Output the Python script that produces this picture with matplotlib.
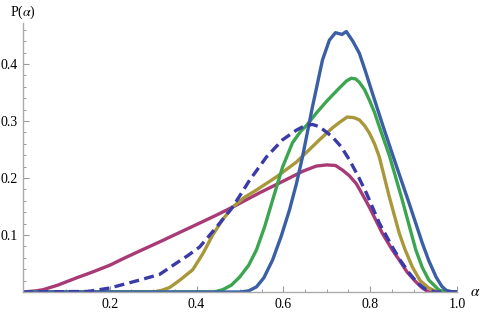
import matplotlib
matplotlib.use('Agg')
import matplotlib.pyplot as plt

plt.rcParams['font.family'] = ['Liberation Serif', 'DejaVu Serif']
plt.rcParams['mathtext.fontset'] = 'stix'

# points (alpha, P)
magenta_a = [0.0, 0.03, 0.046, 0.08, 0.124, 0.16, 0.2, 0.235, 0.269, 0.315, 0.368, 0.41, 0.446, 0.483,
             0.545, 0.614, 0.645, 0.676, 0.7, 0.72, 0.736, 0.752, 0.768, 0.783, 0.798, 0.828, 0.85,
             0.867, 0.885, 0.905, 0.92, 0.935, 1.0]
magenta_p = [0.0, 0.002, 0.004, 0.012, 0.025, 0.035, 0.047, 0.06, 0.072, 0.088, 0.107, 0.122, 0.135,
             0.149, 0.174, 0.2, 0.212, 0.221, 0.223, 0.222, 0.214, 0.204, 0.19, 0.17, 0.149, 0.103,
             0.075, 0.056, 0.035, 0.018, 0.007, 0.0, 0.0]

dashed_a = [0.0, 0.15, 0.2, 0.269, 0.315, 0.354, 0.38, 0.407, 0.446, 0.483, 0.522, 0.561, 0.598,
            0.63, 0.65, 0.667, 0.683, 0.7, 0.713, 0.733, 0.752, 0.771, 0.791, 0.821, 0.851, 0.87,
            0.89, 0.91, 0.929, 0.95, 1.0]
dashed_p = [0.0, 0.001, 0.007, 0.021, 0.031, 0.051, 0.064, 0.079, 0.114, 0.149, 0.196, 0.237, 0.267,
            0.284, 0.292, 0.294, 0.29, 0.28, 0.272, 0.255, 0.232, 0.205, 0.174, 0.121, 0.079, 0.055,
            0.033, 0.015, 0.004, 0.0, 0.0]

gold_a = [0.0, 0.3, 0.32, 0.338, 0.36, 0.391, 0.415, 0.437, 0.46, 0.483, 0.51, 0.538, 0.584, 0.63,
          0.66, 0.683, 0.713, 0.73, 0.747, 0.762, 0.775, 0.787, 0.798, 0.81, 0.821, 0.844, 0.867,
          0.88, 0.897, 0.915, 0.935, 0.955, 1.0]
gold_p = [0.0, 0.0, 0.003, 0.008, 0.02, 0.039, 0.068, 0.1, 0.127, 0.149, 0.166, 0.179, 0.202, 0.228,
          0.25, 0.267, 0.288, 0.298, 0.307, 0.306, 0.302, 0.292, 0.279, 0.26, 0.237, 0.167, 0.103,
          0.075, 0.044, 0.02, 0.007, 0.0, 0.0]

green_a = [0.0, 0.44, 0.46, 0.48, 0.499, 0.52, 0.538, 0.557, 0.575, 0.598, 0.621, 0.64, 0.653, 0.676,
           0.7, 0.729, 0.745, 0.756, 0.766, 0.775, 0.787, 0.798, 0.81, 0.821, 0.844, 0.874, 0.905,
           0.92, 0.935, 0.959, 0.98, 1.0]
green_p = [0.0, 0.0, 0.004, 0.012, 0.026, 0.047, 0.074, 0.115, 0.161, 0.219, 0.262, 0.282, 0.292,
           0.314, 0.335, 0.358, 0.37, 0.375, 0.374, 0.368, 0.355, 0.337, 0.315, 0.29, 0.24, 0.161,
           0.074, 0.043, 0.021, 0.003, 0.0, 0.0]

blue_a = [0.0, 0.5, 0.52, 0.538, 0.555, 0.575, 0.595, 0.614, 0.63, 0.644, 0.667, 0.69, 0.706, 0.72,
          0.735, 0.745, 0.76, 0.775, 0.79, 0.805, 0.83, 0.86, 0.89, 0.92, 0.935, 0.952, 0.965,
          0.975, 0.99, 1.0]
blue_p = [0.0, 0.0, 0.002, 0.009, 0.025, 0.056, 0.098, 0.144, 0.19, 0.237, 0.325, 0.407, 0.442,
          0.455, 0.452, 0.457, 0.44, 0.419, 0.385, 0.349, 0.29, 0.222, 0.155, 0.086, 0.055, 0.026,
          0.01, 0.003, 0.0, 0.0]

x_ticks = [0.2, 0.4, 0.6, 0.8, 1.0]
y_ticks = [0.1, 0.2, 0.3, 0.4]

fig = plt.figure(figsize=(4.85, 3.13), dpi=100)
ax = fig.add_axes([23 / 485, 21 / 313, 434 / 485, 269 / 313])

lw = 2.4
ax.plot(magenta_a, magenta_p, color='#a83a75', lw=lw, solid_joinstyle='round')
ax.plot(gold_a, gold_p, color='#a8983a', lw=lw, solid_joinstyle='round')
ax.plot(green_a, green_p, color='#3ca550', lw=lw, solid_joinstyle='round')
ax.plot(blue_a, blue_p, color='#3a5fa5', lw=lw, solid_joinstyle='round')
ax.plot(dashed_a, dashed_p, color='#3a3aa8', lw=lw, dashes=(3, 1.6))

ax.set_xlim(0, 1.0)
ax.set_ylim(0, 0.472)

for s in ['top', 'right']:
    ax.spines[s].set_visible(False)
for s in ['left', 'bottom']:
    ax.spines[s].set_color('#aaaaaa')
    ax.spines[s].set_linewidth(1.0)

ax.set_xticks(x_ticks)
ax.set_xticklabels(['0.2', '0.4', '0.6', '0.8', '1.0'])
ax.set_yticks(y_ticks)
ax.set_yticklabels(['0.1', '0.2', '0.3', '0.4'])
ax.set_xticks([i * 0.05 for i in range(1, 20)], minor=True)
ax.set_yticks([i * 0.02 for i in range(1, 24)], minor=True)
ax.tick_params(which='major', direction='in', length=4, width=0.8, color='#999999',
               labelsize=10, pad=4)
ax.tick_params(which='minor', direction='in', length=2.3, width=0.7, color='#999999')

fig.text(10 / 485, 1 - 12 / 313, 'P($\\alpha$)', fontsize=10, va='center', ha='left')
fig.text(475 / 485, 1 - 293 / 313, '$\\alpha$', fontsize=11, va='center', ha='center')

fig.savefig('out.png', dpi=100)
